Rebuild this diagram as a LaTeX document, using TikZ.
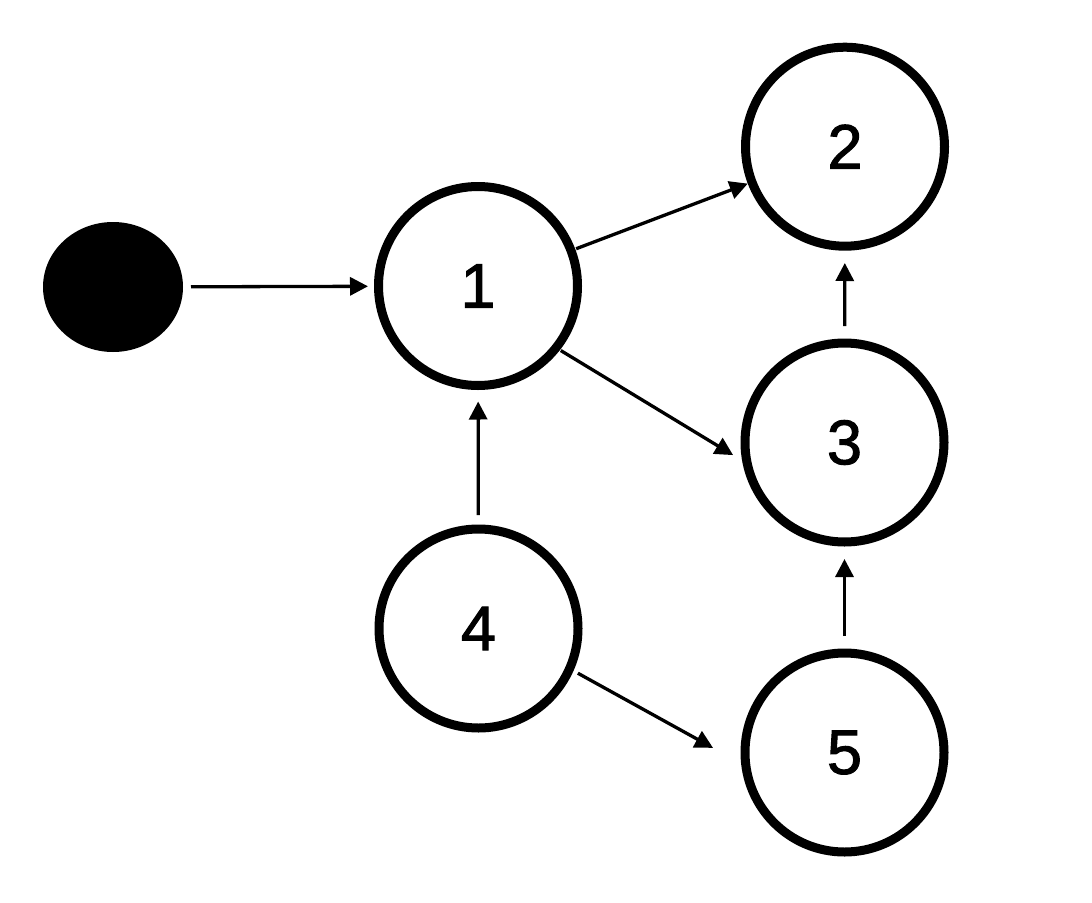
\documentclass[tikz,border=0pt]{standalone}
\usepackage{fontspec}
\setmainfont{Liberation Sans}
\newfontface\digitfont{Liberation Sans}[FakeBold=1.6]
\usetikzlibrary{arrows.meta,shapes.geometric}
\begin{document}
\begin{tikzpicture}[x=1pt,y=-1pt,
  state/.style={circle,draw=black,line width=9pt,minimum size=199pt,inner sep=0pt,
    font=\digitfont\fontsize{63}{70}\selectfont},
  startdot/.style={ellipse,fill=black,minimum width=140pt,minimum height=130pt,inner sep=0pt,outer sep=0pt},
  edge/.style={line width=3.3pt,-{Triangle[length=18pt,width=18pt]}}]
\useasboundingbox (0,0) rectangle (1092,902);
\node[startdot] (s) at (113,287) {};
\node[state] (n1) at (478,286) {1};
\node[state] (n2) at (845,146.7) {2};
\node[state] (n3) at (844.5,442.5) {3};
\node[state] (n4) at (478.5,628.5) {4};
\node[state] (n5) at (844.5,752.5) {5};
\draw[edge,shorten <=8pt,shorten >=6pt] (s) -- (n1);
\draw[edge,shorten <=1pt] (n1) -- (n2);
\draw[edge,shorten <=1pt,shorten >=10.5pt] (n1.-38.7) -- (n3.-170.3);
\draw[edge,shorten <=12.5pt,shorten >=12.3pt] (n3) -- (n2);
\draw[edge,shorten <=9.5pt,shorten >=11.5pt] (n4) -- (n1);
\draw[edge,shorten <=5pt,shorten >=32pt] (n4.-24.1) -- (n5.-174.3);
\draw[edge,shorten <=12.5pt,shorten >=12.5pt] (n5) -- (n3);
\end{tikzpicture}
\end{document}
